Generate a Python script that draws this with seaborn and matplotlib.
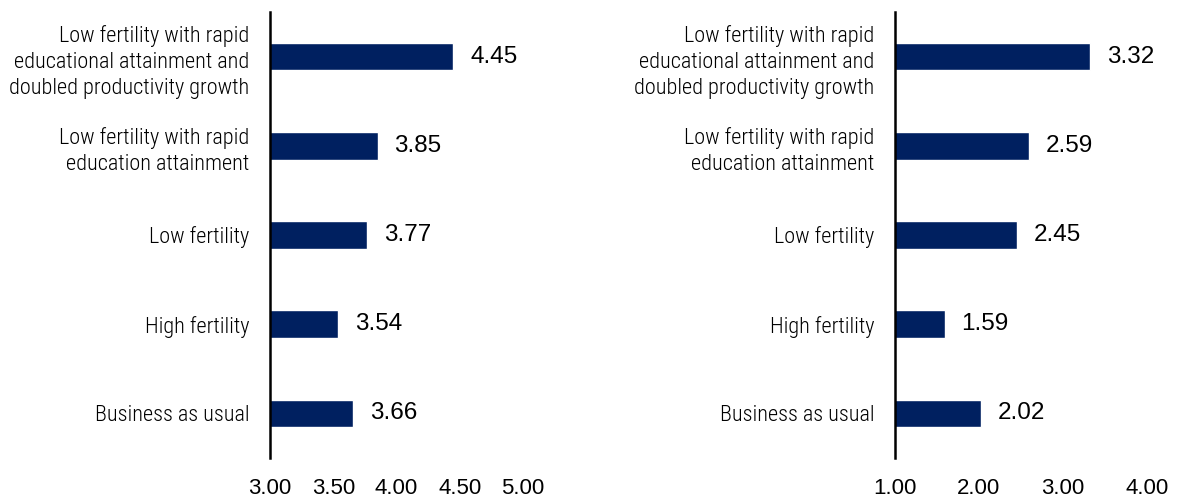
import matplotlib
matplotlib.use("Agg")
import matplotlib.pyplot as plt
import pandas as pd
import seaborn as sns

# Data
scenarios = [
    "Low fertility with rapid\neducational attainment and\ndoubled productivity growth",
    "Low fertility with rapid\neducation attainment",
    "Low fertility",
    "High fertility",
    "Business as usual",
]
left_values = [4.45, 3.85, 3.77, 3.54, 3.66]
right_values = [3.32, 2.59, 2.45, 1.59, 2.02]
left_ticks = [3.0, 3.5, 4.0, 4.5, 5.0]
right_ticks = [1.0, 2.0, 3.0, 4.0]

bar_color = "#002060"
label_font = ["Roboto Condensed", "Liberation Sans", "DejaVu Sans"]
num_font = ["Liberation Sans", "DejaVu Sans"]

sns.set_style("white")
plt.rcParams["font.family"] = num_font
plt.rcParams["text.color"] = "black"

fig = plt.figure(figsize=(11.77, 5), dpi=100)
ax1 = fig.add_axes([270 / 1177, 0.084, 253 / 1177, 0.892])
ax2 = fig.add_axes([895 / 1177, 0.084, 252 / 1177, 0.892])


def draw_panel(ax, values, ticks):
    df = pd.DataFrame({"scenario": scenarios, "value": values})
    sns.barplot(data=df, x="value", y="scenario", order=scenarios,
                color=bar_color, width=0.31, orient="h", ax=ax, saturation=1)
    ax.set_xlim(ticks[0], ticks[-1])
    ax.set_ylim(4.5, -0.5)
    ax.set_xticks(ticks)
    ax.set_xticklabels([f"{t:.2f}" for t in ticks], fontsize=16, family=num_font)
    ax.set_yticks(range(len(scenarios)))
    ax.set_yticklabels(scenarios, fontsize=16, family=label_font,
                       fontweight="light", linespacing=1.32, ha="right")
    ax.tick_params(axis="x", length=0, pad=14.5, colors="black")
    ax.tick_params(axis="y", length=0, pad=15, colors="black")
    ax.set_xlabel("")
    ax.set_ylabel("")
    for s in ["top", "right", "bottom"]:
        ax.spines[s].set_visible(False)
    ax.spines["left"].set_color("black")
    ax.spines["left"].set_linewidth(1.8)
    ax.grid(False)
    for i, v in enumerate(values):
        ax.annotate(f"{v:.2f}", xy=(v, i), xytext=(17, 0),
                    textcoords="offset pixels", va="center", ha="left",
                    fontsize=17.5, family=num_font, color="black",
                    annotation_clip=False)


draw_panel(ax1, left_values, left_ticks)
draw_panel(ax2, right_values, right_ticks)

fig.savefig("out.png", dpi=100)
